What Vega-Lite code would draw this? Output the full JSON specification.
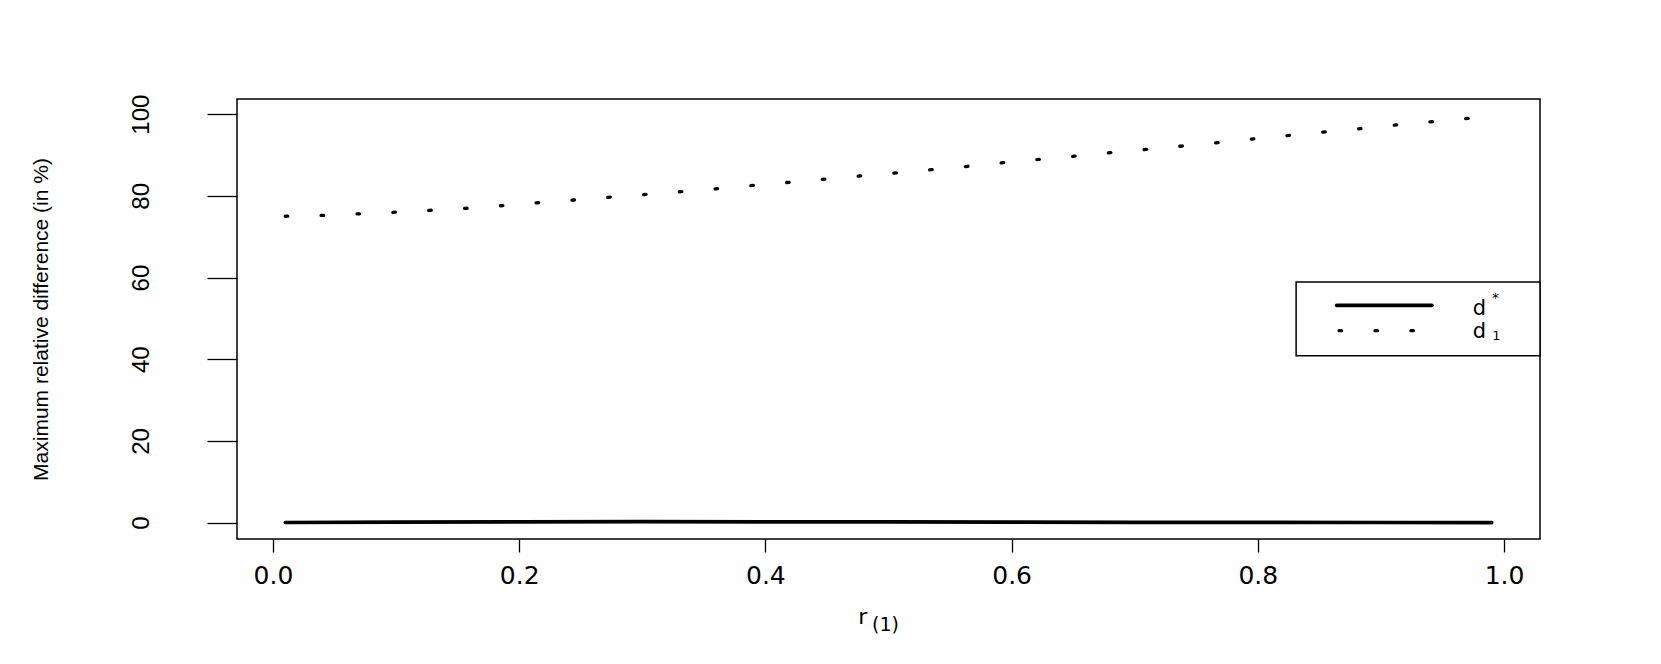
{
  "$schema": "https://vega.github.io/schema/vega-lite/v6.json",
  "width": 1303,
  "height": 440,
  "autosize": {"type": "none"},
  "padding": {"left": 237, "top": 99, "right": 121, "bottom": 125},
  "background": "white",
  "config": {
    "view": {"stroke": "#000", "strokeWidth": 1.5},
    "axis": {"grid": false, "domain": false, "tickColor": "#000", "tickWidth": 1.3, "labelColor": "#000", "titleColor": "#000", "titleFontWeight": "normal", "labelOverlap": false, "labelFlush": false}
  },
  "datasets": {
    "curves": [
      {"s": "dstar", "g": "curve", "x": 0.01, "y": 0.05},
      {"s": "dstar", "g": "curve", "x": 0.1, "y": 0.12},
      {"s": "dstar", "g": "curve", "x": 0.2, "y": 0.2},
      {"s": "dstar", "g": "curve", "x": 0.3, "y": 0.25},
      {"s": "dstar", "g": "curve", "x": 0.4, "y": 0.22},
      {"s": "dstar", "g": "curve", "x": 0.5, "y": 0.18},
      {"s": "dstar", "g": "curve", "x": 0.6, "y": 0.14},
      {"s": "dstar", "g": "curve", "x": 0.7, "y": 0.1},
      {"s": "dstar", "g": "curve", "x": 0.8, "y": 0.07},
      {"s": "dstar", "g": "curve", "x": 0.9, "y": 0.05},
      {"s": "dstar", "g": "curve", "x": 0.99, "y": 0.03},
      {"s": "dstar", "g": "legend", "x": 0.864, "y": 53.19},
      {"s": "dstar", "g": "legend", "x": 0.9414, "y": 53.19},
      {"s": "d1", "g": "curve", "x": 0.01, "y": 75.0},
      {"s": "d1", "g": "curve", "x": 0.04, "y": 75.2},
      {"s": "d1", "g": "curve", "x": 0.07, "y": 75.6},
      {"s": "d1", "g": "curve", "x": 0.10, "y": 76.0},
      {"s": "d1", "g": "curve", "x": 0.13, "y": 76.5},
      {"s": "d1", "g": "curve", "x": 0.16, "y": 77.0},
      {"s": "d1", "g": "curve", "x": 0.19, "y": 77.7},
      {"s": "d1", "g": "curve", "x": 0.22, "y": 78.4},
      {"s": "d1", "g": "curve", "x": 0.25, "y": 79.1},
      {"s": "d1", "g": "curve", "x": 0.28, "y": 79.8},
      {"s": "d1", "g": "curve", "x": 0.31, "y": 80.5},
      {"s": "d1", "g": "curve", "x": 0.34, "y": 81.25},
      {"s": "d1", "g": "curve", "x": 0.37, "y": 82.0},
      {"s": "d1", "g": "curve", "x": 0.40, "y": 82.8},
      {"s": "d1", "g": "curve", "x": 0.43, "y": 83.6},
      {"s": "d1", "g": "curve", "x": 0.46, "y": 84.4},
      {"s": "d1", "g": "curve", "x": 0.49, "y": 85.2},
      {"s": "d1", "g": "curve", "x": 0.52, "y": 86.0},
      {"s": "d1", "g": "curve", "x": 0.55, "y": 86.8},
      {"s": "d1", "g": "curve", "x": 0.58, "y": 87.7},
      {"s": "d1", "g": "curve", "x": 0.61, "y": 88.6},
      {"s": "d1", "g": "curve", "x": 0.64, "y": 89.4},
      {"s": "d1", "g": "curve", "x": 0.67, "y": 90.27},
      {"s": "d1", "g": "curve", "x": 0.70, "y": 91.1},
      {"s": "d1", "g": "curve", "x": 0.73, "y": 91.95},
      {"s": "d1", "g": "curve", "x": 0.76, "y": 92.8},
      {"s": "d1", "g": "curve", "x": 0.79, "y": 93.73},
      {"s": "d1", "g": "curve", "x": 0.82, "y": 94.6},
      {"s": "d1", "g": "curve", "x": 0.85, "y": 95.5},
      {"s": "d1", "g": "curve", "x": 0.88, "y": 96.35},
      {"s": "d1", "g": "curve", "x": 0.91, "y": 97.28},
      {"s": "d1", "g": "curve", "x": 0.94, "y": 98.1},
      {"s": "d1", "g": "curve", "x": 0.97, "y": 98.95},
      {"s": "d1", "g": "curve", "x": 0.99, "y": 99.5},
      {"s": "d1", "g": "legend", "x": 0.866, "y": 47.0},
      {"s": "d1", "g": "legend", "x": 0.9414, "y": 47.0}
    ],
    "box": [
      {"x": 0.8311, "x2": 1.0292, "y": 58.92, "y2": 40.88}
    ],
    "labels": [
      {"t": "d", "x": 0.9745, "y": 50.9, "size": 21},
      {"t": "*", "x": 0.9905, "y": 54.0, "size": 13},
      {"t": "d", "x": 0.9745, "y": 45.2, "size": 21},
      {"t": "1", "x": 0.9905, "y": 44.6, "size": 13},
      {"t": "r", "x": 0.4755, "y": -24.9, "size": 22},
      {"t": "(1)", "x": 0.4866, "y": -26.6, "size": 19}
    ]
  },
  "encoding": {
    "x": {
      "field": "x", "type": "quantitative",
      "scale": {"domain": [-0.0292, 1.0292], "nice": false, "zero": false},
      "axis": {
        "values": [0, 0.2, 0.4, 0.6, 0.8, 1.0], "format": ".1f",
        "title": null,
        "tickSize": 13, "labelPadding": 11,
        "labelFont": "DejaVu Sans", "labelFontSize": 25
      }
    },
    "y": {
      "field": "y", "type": "quantitative",
      "scale": {"domain": [-3.99, 103.7], "nice": false, "zero": false},
      "axis": {
        "values": [0, 20, 40, 60, 80, 100],
        "title": "Maximum relative difference (in %)",
        "tickSize": 30, "labelPadding": 54,
        "labelAngle": 270, "labelAlign": "center", "labelBaseline": "bottom",
        "labelFont": "Liberation Sans", "labelFontSize": 24,
        "titleFont": "Liberation Sans", "titleFontSize": 21, "titlePadding": 78
      }
    }
  },
  "layer": [
    {
      "data": {"name": "box"},
      "mark": {"type": "rect", "fill": "white", "stroke": "#000", "strokeWidth": 1.5},
      "encoding": {"x2": {"field": "x2"}, "y2": {"field": "y2"}}
    },
    {
      "data": {"name": "curves"},
      "transform": [{"filter": "datum.s === 'dstar'"}],
      "mark": {"type": "line", "color": "#000", "strokeWidth": 3.7, "strokeCap": "round"},
      "encoding": {"detail": {"field": "g"}}
    },
    {
      "data": {"name": "curves"},
      "transform": [{"filter": "datum.s === 'd1'"}],
      "mark": {"type": "line", "color": "#000", "strokeWidth": 3.3, "strokeCap": "round", "strokeDash": [2.5, 33.4]},
      "encoding": {"detail": {"field": "g"}}
    },
    {
      "data": {"name": "labels"},
      "mark": {"type": "text", "align": "left", "baseline": "alphabetic", "font": "DejaVu Sans", "color": "#000", "clip": false},
      "encoding": {"text": {"field": "t"}, "size": {"field": "size", "type": "quantitative", "scale": null}}
    }
  ]
}
